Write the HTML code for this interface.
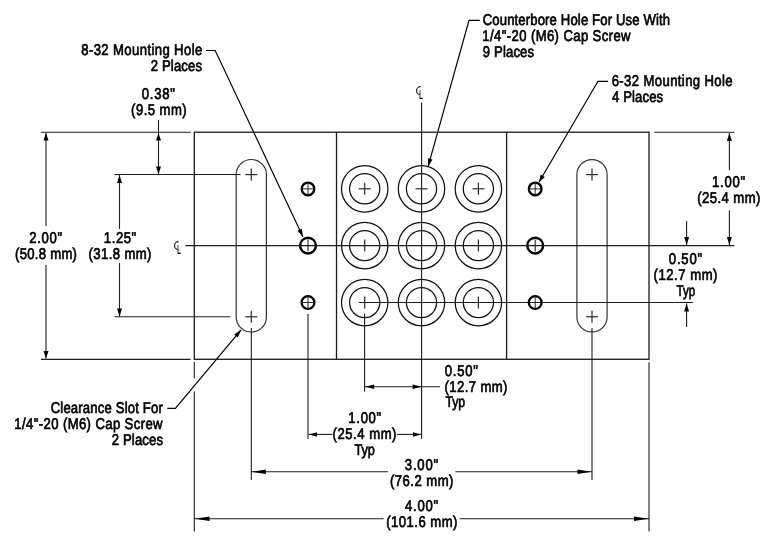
<!DOCTYPE html>
<html><head><meta charset="utf-8"><style>
html,body{margin:0;padding:0;background:#fff;}
svg{display:block;}
text{font-family:"Liberation Sans",sans-serif;font-size:15.6px;fill:#000;stroke:#000;stroke-width:0.7px;text-rendering:geometricPrecision;}
</style></head><body>
<svg width="780" height="550" viewBox="0 0 780 550">
<rect width="780" height="550" fill="#fff"/>
<rect x="194.3" y="132.2" width="454.7" height="227.10000000000002" fill="none" stroke="#1a1a1a" stroke-width="1.3"/>
<line x1="336.5" y1="132.2" x2="336.5" y2="359.3" stroke="#1a1a1a" stroke-width="1.3"/>
<line x1="506.6" y1="132.2" x2="506.6" y2="359.3" stroke="#1a1a1a" stroke-width="1.3"/>
<path d="M236.20000000000002,174.6 A15.1,15.1 0 0 1 266.40000000000003,174.6 L266.40000000000003,316.9 A15.1,15.1 0 0 1 236.20000000000002,316.9 Z" fill="none" stroke="#333" stroke-width="1.2"/>
<path d="M576.9,174.6 A15.1,15.1 0 0 1 607.1,174.6 L607.1,316.9 A15.1,15.1 0 0 1 576.9,316.9 Z" fill="none" stroke="#333" stroke-width="1.2"/>
<circle cx="364.7" cy="188.8" r="23.2" fill="none" stroke="#111" stroke-width="1.25"/>
<circle cx="364.7" cy="188.8" r="15.1" fill="none" stroke="#111" stroke-width="1.25"/>
<circle cx="364.7" cy="245.6" r="23.2" fill="none" stroke="#111" stroke-width="1.25"/>
<circle cx="364.7" cy="245.6" r="15.1" fill="none" stroke="#111" stroke-width="1.25"/>
<circle cx="364.7" cy="302.6" r="23.2" fill="none" stroke="#111" stroke-width="1.25"/>
<circle cx="364.7" cy="302.6" r="15.1" fill="none" stroke="#111" stroke-width="1.25"/>
<circle cx="421.5" cy="188.8" r="23.2" fill="none" stroke="#111" stroke-width="1.25"/>
<circle cx="421.5" cy="188.8" r="15.1" fill="none" stroke="#111" stroke-width="1.25"/>
<circle cx="421.5" cy="245.6" r="23.2" fill="none" stroke="#111" stroke-width="1.25"/>
<circle cx="421.5" cy="245.6" r="15.1" fill="none" stroke="#111" stroke-width="1.25"/>
<circle cx="421.5" cy="302.6" r="23.2" fill="none" stroke="#111" stroke-width="1.25"/>
<circle cx="421.5" cy="302.6" r="15.1" fill="none" stroke="#111" stroke-width="1.25"/>
<circle cx="478.4" cy="188.8" r="23.2" fill="none" stroke="#111" stroke-width="1.25"/>
<circle cx="478.4" cy="188.8" r="15.1" fill="none" stroke="#111" stroke-width="1.25"/>
<circle cx="478.4" cy="245.6" r="23.2" fill="none" stroke="#111" stroke-width="1.25"/>
<circle cx="478.4" cy="245.6" r="15.1" fill="none" stroke="#111" stroke-width="1.25"/>
<circle cx="478.4" cy="302.6" r="23.2" fill="none" stroke="#111" stroke-width="1.25"/>
<circle cx="478.4" cy="302.6" r="15.1" fill="none" stroke="#111" stroke-width="1.25"/>
<circle cx="308" cy="188.9" r="6.3" fill="none" stroke="#000" stroke-width="2.35"/>
<circle cx="308" cy="245.6" r="7.9" fill="none" stroke="#000" stroke-width="2.4"/>
<circle cx="308" cy="302.5" r="6.4" fill="none" stroke="#000" stroke-width="2.35"/>
<circle cx="535.2" cy="188.9" r="6.3" fill="none" stroke="#000" stroke-width="2.35"/>
<circle cx="535.2" cy="245.6" r="7.9" fill="none" stroke="#000" stroke-width="2.4"/>
<circle cx="535.2" cy="302.5" r="6.4" fill="none" stroke="#000" stroke-width="2.35"/>
<line x1="358.7" y1="188.8" x2="370.7" y2="188.8" stroke="#2a2a2a" stroke-width="1.2"/>
<line x1="364.7" y1="182.8" x2="364.7" y2="194.8" stroke="#2a2a2a" stroke-width="1.2"/>
<line x1="415.5" y1="188.8" x2="427.5" y2="188.8" stroke="#2a2a2a" stroke-width="1.2"/>
<line x1="472.4" y1="188.8" x2="484.4" y2="188.8" stroke="#2a2a2a" stroke-width="1.2"/>
<line x1="478.4" y1="182.8" x2="478.4" y2="194.8" stroke="#2a2a2a" stroke-width="1.2"/>
<line x1="364.7" y1="239.6" x2="364.7" y2="251.6" stroke="#2a2a2a" stroke-width="1.2"/>
<line x1="478.4" y1="239.6" x2="478.4" y2="251.6" stroke="#2a2a2a" stroke-width="1.2"/>
<line x1="364.7" y1="296.6" x2="364.7" y2="308.6" stroke="#2a2a2a" stroke-width="1.2"/>
<line x1="478.4" y1="296.6" x2="478.4" y2="308.6" stroke="#2a2a2a" stroke-width="1.2"/>
<line x1="301.7" y1="188.9" x2="314.3" y2="188.9" stroke="#2a2a2a" stroke-width="1.0"/>
<line x1="308" y1="182.6" x2="308" y2="195.20000000000002" stroke="#2a2a2a" stroke-width="1.0"/>
<line x1="308" y1="239.6" x2="308" y2="251.6" stroke="#2a2a2a" stroke-width="1.1"/>
<line x1="528.9000000000001" y1="188.9" x2="541.5" y2="188.9" stroke="#2a2a2a" stroke-width="1.0"/>
<line x1="535.2" y1="182.6" x2="535.2" y2="195.20000000000002" stroke="#2a2a2a" stroke-width="1.0"/>
<line x1="535.2" y1="239.6" x2="535.2" y2="251.6" stroke="#2a2a2a" stroke-width="1.1"/>
<line x1="301.7" y1="302.5" x2="314.3" y2="302.5" stroke="#2a2a2a" stroke-width="1.0"/>
<line x1="308" y1="296.2" x2="308" y2="308.8" stroke="#2a2a2a" stroke-width="1.0"/>
<line x1="535.2" y1="296.2" x2="535.2" y2="308.8" stroke="#2a2a2a" stroke-width="1.0"/>
<line x1="245.3" y1="174.6" x2="257.3" y2="174.6" stroke="#2a2a2a" stroke-width="1.2"/>
<line x1="251.3" y1="168.6" x2="251.3" y2="180.6" stroke="#2a2a2a" stroke-width="1.2"/>
<line x1="245.3" y1="316.8" x2="257.3" y2="316.8" stroke="#2a2a2a" stroke-width="1.2"/>
<line x1="251.3" y1="310.8" x2="251.3" y2="322.8" stroke="#2a2a2a" stroke-width="1.2"/>
<line x1="586" y1="174.6" x2="598" y2="174.6" stroke="#2a2a2a" stroke-width="1.2"/>
<line x1="592" y1="168.6" x2="592" y2="180.6" stroke="#2a2a2a" stroke-width="1.2"/>
<line x1="586" y1="316.8" x2="598" y2="316.8" stroke="#2a2a2a" stroke-width="1.2"/>
<line x1="592" y1="310.8" x2="592" y2="322.8" stroke="#2a2a2a" stroke-width="1.2"/>
<line x1="185.4" y1="245.6" x2="734.4" y2="245.6" stroke="#1e1e1e" stroke-width="1.1"/>
<line x1="421.6" y1="102.6" x2="421.6" y2="439" stroke="#1e1e1e" stroke-width="1.1"/>
<line x1="358.8" y1="302.5" x2="693" y2="302.5" stroke="#1e1e1e" stroke-width="1.1"/>
<line x1="114.5" y1="174.5" x2="240.5" y2="174.5" stroke="#1e1e1e" stroke-width="1.1"/>
<line x1="114.5" y1="316.8" x2="230.5" y2="316.8" stroke="#1e1e1e" stroke-width="1.1"/>
<line x1="41" y1="132.3" x2="190.5" y2="132.3" stroke="#1e1e1e" stroke-width="1.1"/>
<line x1="41" y1="359.4" x2="190.5" y2="359.4" stroke="#1e1e1e" stroke-width="1.1"/>
<line x1="654.2" y1="132.2" x2="734.4" y2="132.2" stroke="#1e1e1e" stroke-width="1.1"/>
<line x1="46" y1="133" x2="46" y2="226" stroke="#1e1e1e" stroke-width="1.1"/>
<line x1="46" y1="265" x2="46" y2="358.5" stroke="#1e1e1e" stroke-width="1.1"/>
<polygon points="46.00,133.00 43.50,140.50 48.50,140.50" fill="#000"/>
<polygon points="46.00,358.60 43.50,351.10 48.50,351.10" fill="#000"/>
<line x1="119.5" y1="175" x2="119.5" y2="229" stroke="#1e1e1e" stroke-width="1.1"/>
<line x1="119.5" y1="263" x2="119.5" y2="316.5" stroke="#1e1e1e" stroke-width="1.1"/>
<polygon points="119.50,175.00 117.00,183.00 122.00,183.00" fill="#000"/>
<polygon points="119.50,316.50 117.00,308.50 122.00,308.50" fill="#000"/>
<line x1="158.5" y1="120" x2="158.5" y2="174" stroke="#1e1e1e" stroke-width="1.1"/>
<polygon points="158.50,133.00 156.00,140.50 161.00,140.50" fill="#000"/>
<polygon points="158.50,174.00 156.00,166.50 161.00,166.50" fill="#000"/>
<line x1="729.4" y1="133" x2="729.4" y2="170" stroke="#1e1e1e" stroke-width="1.1"/>
<line x1="729.4" y1="210.4" x2="729.4" y2="245" stroke="#1e1e1e" stroke-width="1.1"/>
<polygon points="729.40,133.00 726.90,141.00 731.90,141.00" fill="#000"/>
<polygon points="729.40,245.00 726.90,237.00 731.90,237.00" fill="#000"/>
<line x1="686.6" y1="221" x2="686.6" y2="245" stroke="#1e1e1e" stroke-width="1.1"/>
<polygon points="686.60,245.00 684.10,237.00 689.10,237.00" fill="#000"/>
<line x1="686.6" y1="303.6" x2="686.6" y2="327" stroke="#1e1e1e" stroke-width="1.1"/>
<polygon points="686.60,303.60 684.10,311.60 689.10,311.60" fill="#000"/>
<line x1="194.3" y1="362" x2="194.3" y2="378.5" stroke="#1e1e1e" stroke-width="1.1"/>
<line x1="194.3" y1="391.5" x2="194.3" y2="531.5" stroke="#1e1e1e" stroke-width="1.1"/>
<line x1="649" y1="362.2" x2="649" y2="531.5" stroke="#1e1e1e" stroke-width="1.1"/>
<line x1="251.3" y1="328" x2="251.3" y2="480" stroke="#1e1e1e" stroke-width="1.1"/>
<line x1="592" y1="328" x2="592" y2="480" stroke="#1e1e1e" stroke-width="1.1"/>
<line x1="308" y1="314" x2="308" y2="439" stroke="#1e1e1e" stroke-width="1.1"/>
<line x1="364.6" y1="313.5" x2="364.6" y2="391.6" stroke="#1e1e1e" stroke-width="1.1"/>
<line x1="364.6" y1="386.8" x2="440" y2="386.8" stroke="#1e1e1e" stroke-width="1.1"/>
<polygon points="365.20,386.80 374.20,384.55 374.20,389.05" fill="#000"/>
<polygon points="421.60,386.80 412.60,384.55 412.60,389.05" fill="#000"/>
<line x1="308.4" y1="434.4" x2="332.5" y2="434.4" stroke="#1e1e1e" stroke-width="1.1"/>
<line x1="397" y1="434.4" x2="421.6" y2="434.4" stroke="#1e1e1e" stroke-width="1.1"/>
<polygon points="309.00,434.40 317.00,432.15 317.00,436.65" fill="#000"/>
<polygon points="421.00,434.40 413.00,432.15 413.00,436.65" fill="#000"/>
<line x1="251.3" y1="471.8" x2="388" y2="471.8" stroke="#1e1e1e" stroke-width="1.1"/>
<line x1="455.4" y1="471.8" x2="592" y2="471.8" stroke="#1e1e1e" stroke-width="1.1"/>
<polygon points="251.80,471.80 265.80,469.55 265.80,474.05" fill="#000"/>
<polygon points="591.50,471.80 577.50,469.55 577.50,474.05" fill="#000"/>
<line x1="194.5" y1="518.7" x2="383.6" y2="518.7" stroke="#1e1e1e" stroke-width="1.1"/>
<line x1="459.6" y1="518.7" x2="649" y2="518.7" stroke="#1e1e1e" stroke-width="1.1"/>
<polygon points="195.00,518.70 209.50,516.45 209.50,520.95" fill="#000"/>
<polygon points="648.50,518.70 634.00,516.45 634.00,520.95" fill="#000"/>
<path d="M206,50.5 L215.2,50.5 L303,237" fill="none" stroke="#000" stroke-width="1.2"/><polygon points="303.00,237.00 297.42,230.78 301.76,228.74" fill="#000"/>
<path d="M479.8,20.4 L469,20.4 L428.2,166.2" fill="none" stroke="#000" stroke-width="1.2"/><polygon points="428.20,166.20 427.91,158.33 432.53,159.62" fill="#000"/>
<path d="M608,81.3 L598,81.3 L539.1,182" fill="none" stroke="#000" stroke-width="1.2"/><polygon points="539.10,182.00 540.66,174.57 544.81,177.00" fill="#000"/>
<path d="M167.3,408.4 L175.4,408.4 L241.1,329.8" fill="none" stroke="#000" stroke-width="1.2"/><polygon points="241.10,329.80 237.81,337.48 234.13,334.40" fill="#000"/>
<path d="M420.6,86.7 A4.0,4.0 0 0 0 420.40000000000003,94.7" fill="none" stroke="#1a1a1a" stroke-width="1.15"/><path d="M420,90.2 L420,98.4" fill="none" stroke="#555" stroke-width="1.1"/><path d="M419.6,98.4 L422.8,98.4" fill="none" stroke="#000" stroke-width="1.3"/>
<path d="M178.60000000000002,241.60000000000002 A4.0,4.0 0 0 0 178.4,249.60000000000002" fill="none" stroke="#1a1a1a" stroke-width="1.15"/><path d="M178,245.10000000000002 L178,253.3" fill="none" stroke="#555" stroke-width="1.1"/><path d="M177.6,253.3 L180.8,253.3" fill="none" stroke="#000" stroke-width="1.3"/>
<defs><filter id="gs" x="-0.1" y="-0.1" width="1.2" height="1.2"><feOffset dx="0" dy="0"/></filter></defs><g filter="url(#gs)"><text transform="translate(81.26,54.80) scale(0.8400,1)" letter-spacing="0.465">8-32 Mounting Hole</text>
<text transform="translate(150.69,70.80) scale(0.8400,1)" letter-spacing="0.197">2 Places</text>
<text transform="translate(141.73,99.40) scale(0.8400,1)" letter-spacing="0.896">0.38&quot;</text>
<text transform="translate(131.06,115.40) scale(0.8400,1)" letter-spacing="0.548">(9.5 mm)</text>
<text transform="translate(29.19,242.70) scale(0.8400,1)" letter-spacing="0.845">2.00&quot;</text>
<text transform="translate(15.06,258.50) scale(0.8400,1)" letter-spacing="0.325">(50.8 mm)</text>
<text transform="translate(103.87,243.30) scale(0.8400,1)" letter-spacing="0.645">1.25&quot;</text>
<text transform="translate(88.56,258.70) scale(0.8400,1)" letter-spacing="0.474">(31.8 mm)</text>
<text transform="translate(482.69,25.00) scale(0.8400,1)" letter-spacing="0.165">Counterbore Hole For Use With</text>
<text transform="translate(482.37,41.00) scale(0.8400,1)" letter-spacing="0.461">1/4&quot;-20 (M6) Cap Screw</text>
<text transform="translate(482.76,57.00) scale(0.8400,1)" letter-spacing="0.186">9 Places</text>
<text transform="translate(611.69,85.60) scale(0.8400,1)" letter-spacing="0.463">6-32 Mounting Hole</text>
<text transform="translate(612.09,101.60) scale(0.8400,1)" letter-spacing="0.130">4 Places</text>
<text transform="translate(711.97,187.40) scale(0.8400,1)" letter-spacing="0.913">1.00&quot;</text>
<text transform="translate(697.16,203.40) scale(0.8400,1)" letter-spacing="0.533">(25.4 mm)</text>
<text transform="translate(668.83,264.00) scale(0.8400,1)" letter-spacing="0.955">0.50&quot;</text>
<text transform="translate(653.56,280.00) scale(0.8400,1)" letter-spacing="0.623">(12.7 mm)</text>
<text transform="translate(676.52,295.60) scale(0.7403,1)" letter-spacing="0.000">Typ</text>
<text transform="translate(50.69,413.30) scale(0.8400,1)" letter-spacing="0.205">Clearance Slot For</text>
<text transform="translate(14.37,429.00) scale(0.8400,1)" letter-spacing="0.461">1/4&quot;-20 (M6) Cap Screw</text>
<text transform="translate(111.69,445.00) scale(0.8400,1)" letter-spacing="0.197">2 Places</text>
<text transform="translate(444.83,375.60) scale(0.8400,1)" letter-spacing="0.836">0.50&quot;</text>
<text transform="translate(444.56,391.60) scale(0.8400,1)" letter-spacing="0.474">(12.7 mm)</text>
<text transform="translate(445.40,407.40) scale(0.7858,1)" letter-spacing="0.000">Typ</text>
<text transform="translate(348.37,423.00) scale(0.8400,1)" letter-spacing="0.794">1.00&quot;</text>
<text transform="translate(332.56,439.00) scale(0.8400,1)" letter-spacing="0.623">(25.4 mm)</text>
<text transform="translate(354.40,454.80) scale(0.8147,1)" letter-spacing="0.000">Typ</text>
<text transform="translate(404.83,469.60) scale(0.8400,1)" letter-spacing="0.955">3.00&quot;</text>
<text transform="translate(389.96,485.60) scale(0.8400,1)" letter-spacing="0.563">(76.2 mm)</text>
<text transform="translate(405.09,511.00) scale(0.8400,1)" letter-spacing="0.877">4.00&quot;</text>
<text transform="translate(386.16,527.00) scale(0.8400,1)" letter-spacing="0.570">(101.6 mm)</text></g>
</svg>
</body></html>
